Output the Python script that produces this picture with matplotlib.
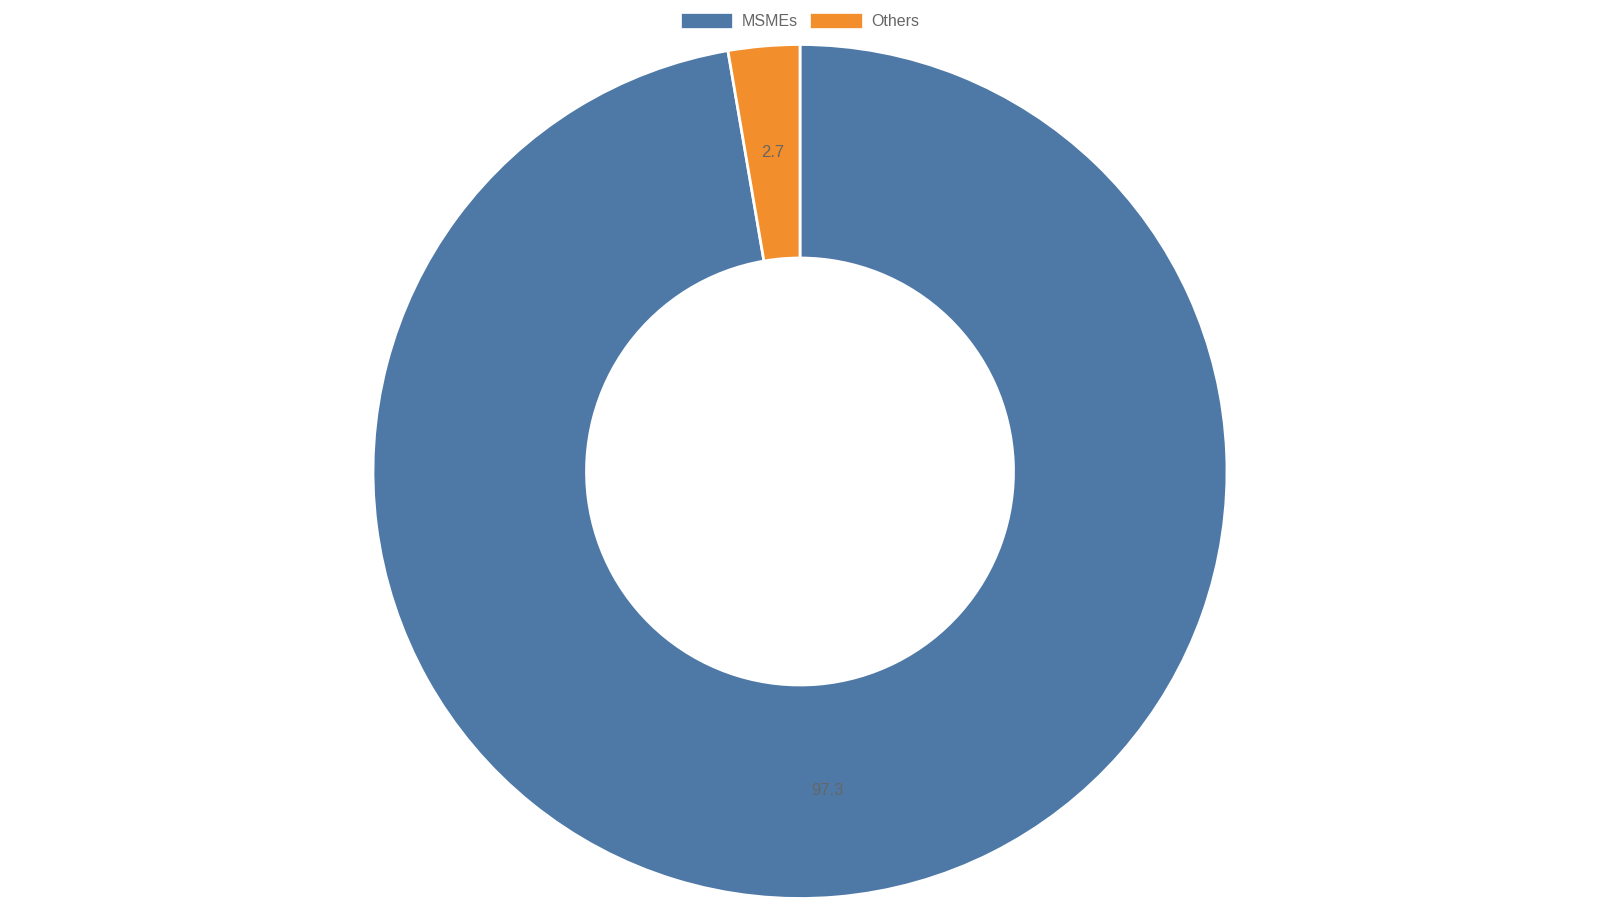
import matplotlib
matplotlib.use("Agg")
import matplotlib.pyplot as plt
import numpy as np

categories = ["MSMEs", "Others"]
values = [97.3, 2.7]
colors = ["#4e79a7", "#f28e2b"]

plt.rcParams['font.family'] = ['Liberation Sans', 'DejaVu Sans']

fig = plt.figure(figsize=(16, 9), dpi=100)
# donut center and outer radius in pixels
R = 427
cx, cy = 800, 471.5
ax = fig.add_axes([(cx - R) / 1600, (900 - cy - R) / 900, 2 * R / 1600, 2 * R / 900])

wedges, _ = ax.pie(values, colors=colors, startangle=90, counterclock=False,
                   radius=1.0,
                   wedgeprops=dict(width=0.5, edgecolor="white", linewidth=2))
ax.set_xlim(-1, 1)
ax.set_ylim(-1, 1)
ax.set_aspect("equal")
ax.axis("off")

r_lab = (1.0 + 0.5) / 2
for w, v in zip(wedges, values):
    ang = np.deg2rad((w.theta1 + w.theta2) / 2)
    ax.text(r_lab * np.cos(ang), r_lab * np.sin(ang), f"{v}",
            ha="center", va="center", color="#666666", fontsize=12)

leg = fig.legend(wedges, categories, loc="center", bbox_to_anchor=(800 / 1600, 1 - 21 / 900),
                 ncol=2, frameon=False, fontsize=11.5, handlelength=3.2, handleheight=1.05,
                 handletextpad=0.6, columnspacing=0.8, labelcolor="#666666")
for h in leg.legend_handles:
    h.set_linewidth(0.5)

fig.savefig("out.png", dpi=100, facecolor="white")
